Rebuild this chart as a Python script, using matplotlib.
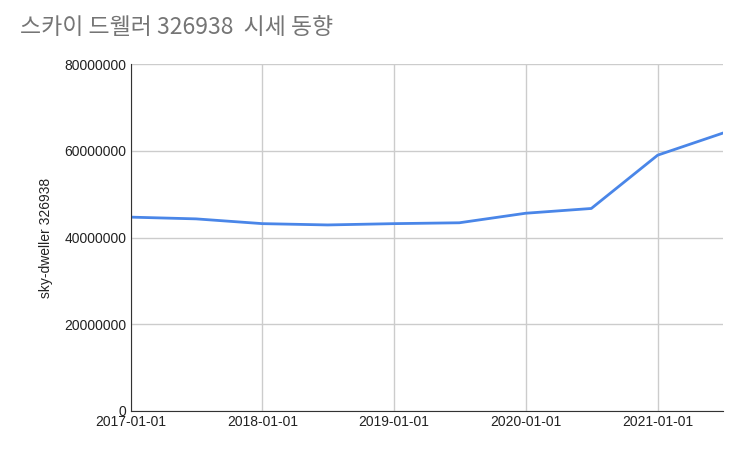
import matplotlib
matplotlib.use("Agg")
import matplotlib.pyplot as plt
import pandas as pd

plt.rcParams['font.family'] = ['Liberation Sans', 'Noto Sans CJK KR', 'DejaVu Sans']

dates = ["2017-01-01","2017-07-01","2018-01-01","2018-07-01","2019-01-01",
         "2019-07-01","2020-01-01","2020-07-01","2021-01-01","2021-07-01"]
values = [44700000, 44300000, 43200000, 42900000, 43200000,
          43400000, 45600000, 46700000, 59000000, 64100000]
tick_labels = ["2017-01-01","2018-01-01","2019-01-01","2020-01-01","2021-01-01"]
yticks = [0, 20000000, 40000000, 60000000, 80000000]

x = pd.to_datetime(dates)
fig = plt.figure(figsize=(7.43, 4.55), dpi=100)
ax = fig.add_axes([0.176, 0.097, 0.797, 0.762])
ax.plot(x, values, color="#4a86e8", lw=2)
ax.set_xlim(pd.Timestamp("2017-01-01"), pd.Timestamp("2021-07-01"))
ax.set_ylim(0, 80000000)
ax.set_yticks(yticks)
ax.set_yticklabels([str(v) for v in yticks])
ax.set_xticks(pd.to_datetime(tick_labels))
ax.set_xticklabels(tick_labels)
ax.grid(True, color="#cccccc", lw=1)
for s in ["top", "right"]:
    ax.spines[s].set_visible(False)
ax.spines["left"].set_color("#333333")
ax.spines["bottom"].set_color("#333333")
ax.tick_params(length=0, labelsize=10, colors="#222222", pad=3)
ax.set_ylabel("sky-dweller 326938", fontsize=10, color="#222222", labelpad=8)
fig.text(0.027, 0.925, "스카이 드웰러 326938  시세 동향", fontsize=16.5, color="#757575",
         family=['Noto Sans CJK KR', 'DejaVu Sans'])
fig.savefig("out.png", dpi=100)
